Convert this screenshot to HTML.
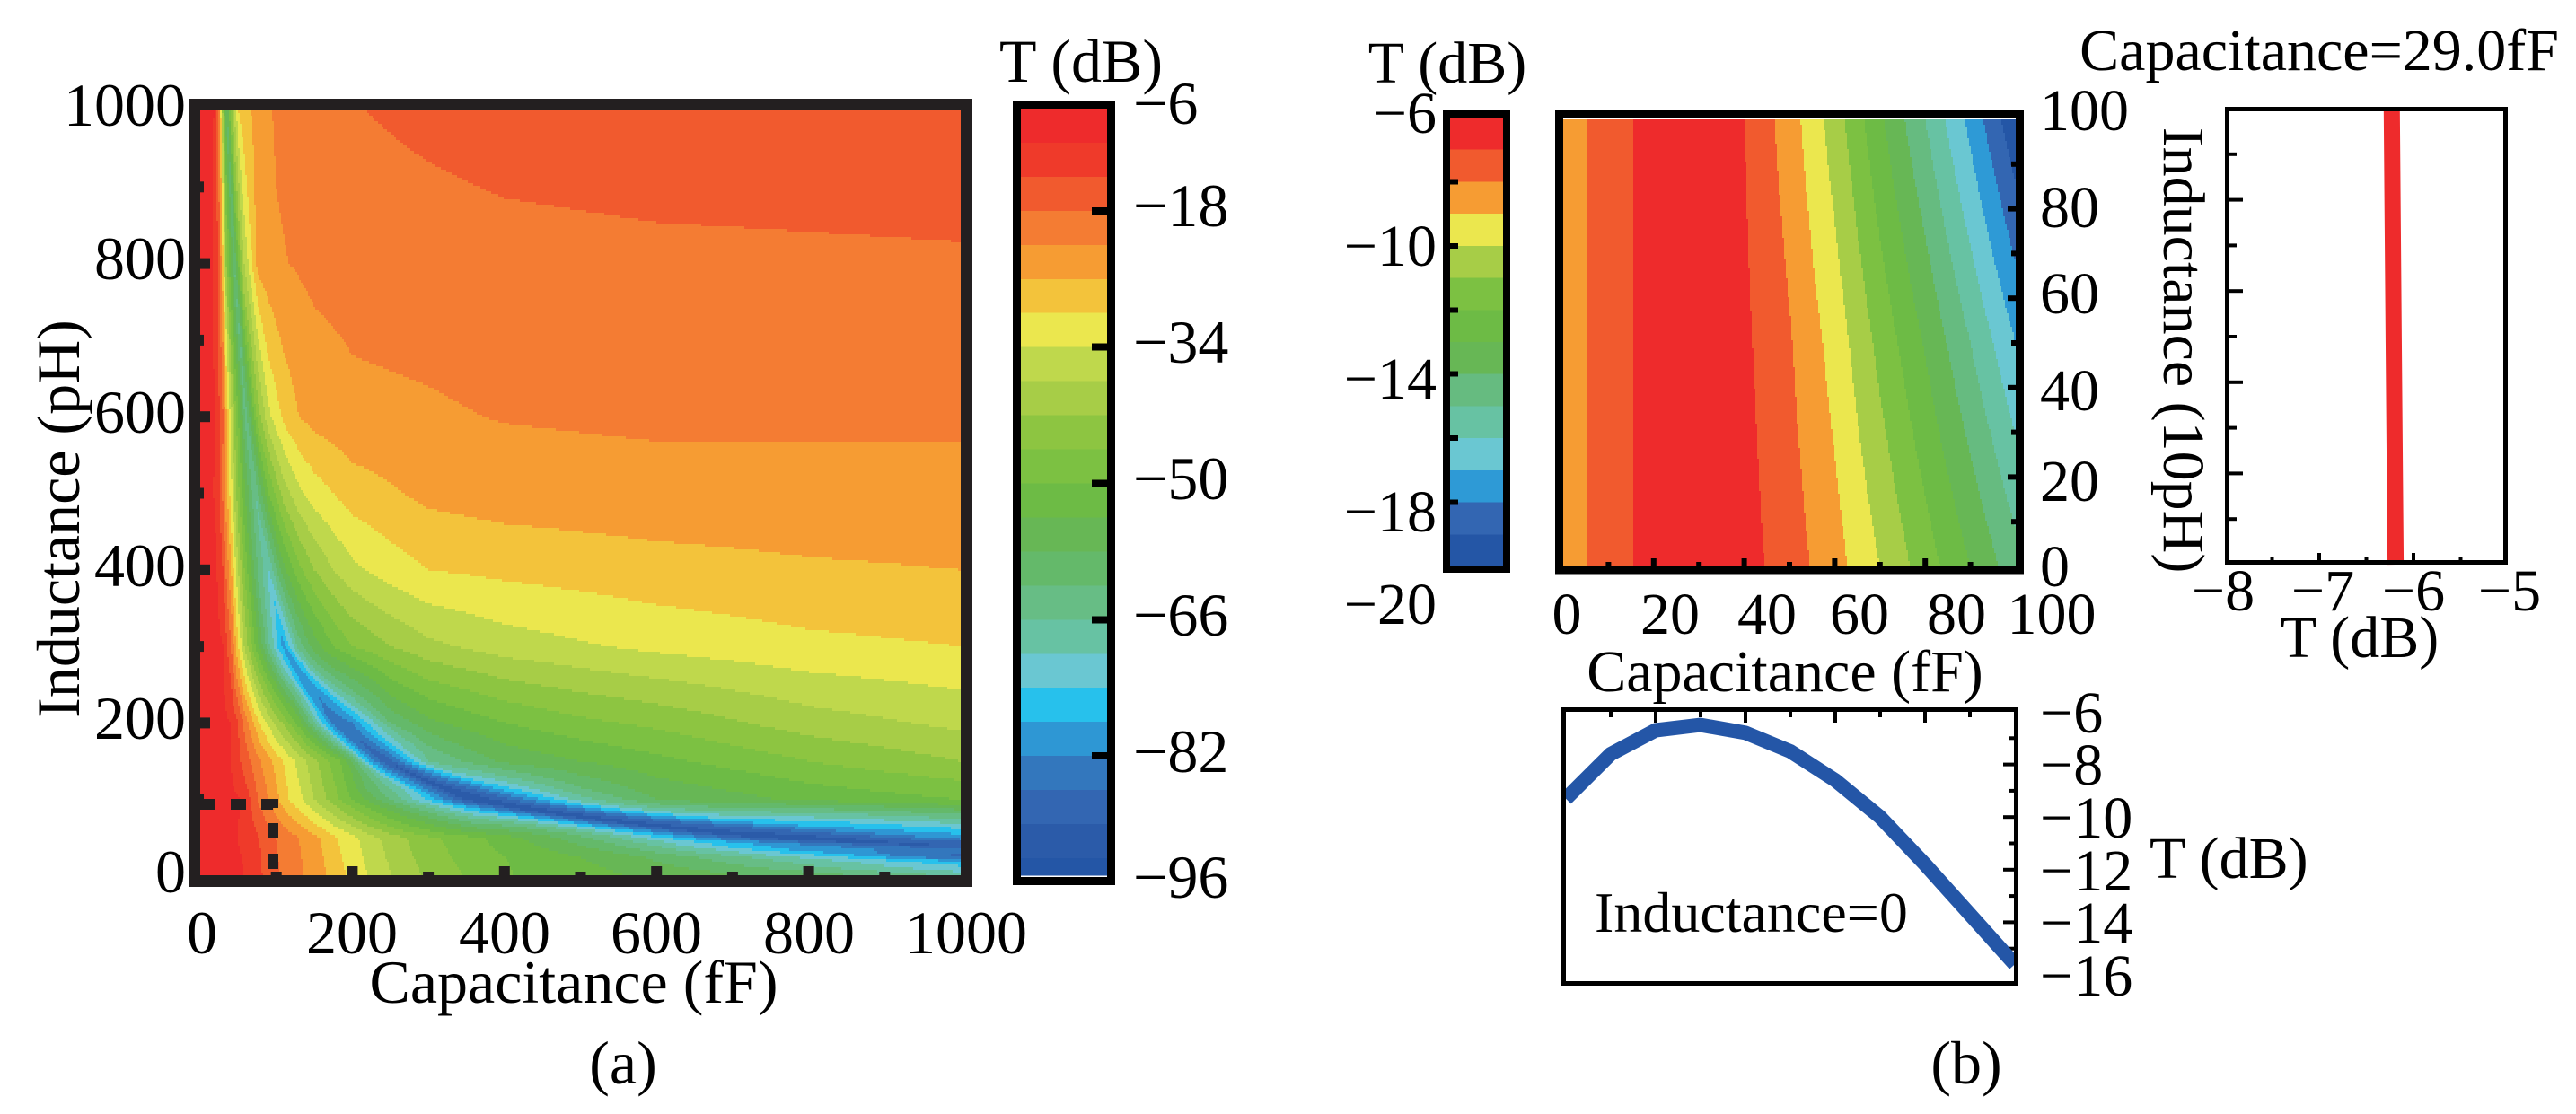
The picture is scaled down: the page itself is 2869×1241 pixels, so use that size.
<!DOCTYPE html>
<html><head><meta charset="utf-8"><title>Transmission contour maps</title>
<style>
html,body{margin:0;padding:0;background:#fff;}
svg{display:block;}
text{fill:#000;font-family:"Liberation Serif","Times New Roman",Times,serif;}
</style></head>
<body>
<svg id="fig" width="2869" height="1241" viewBox="0 0 2869 1241" xmlns="http://www.w3.org/2000/svg" font-family="Liberation Serif, Times New Roman, serif">
<rect x="0" y="0" width="2869" height="1241" fill="#fff"/>
<g id="heatA" shape-rendering="crispEdges"></g>
<g id="cbarA" shape-rendering="crispEdges"></g>
<g id="heatB" shape-rendering="crispEdges"></g>
<g id="cbarB" shape-rendering="crispEdges"></g>
<g id="ticks"></g>
<g id="lines"></g>

<rect x="216.5" y="116.5" width="860" height="865" fill="none" stroke="#231f20" stroke-width="13"/>
<path d="M223,896 H304 V976" fill="none" stroke="#231f20" stroke-width="12" stroke-dasharray="17 17"/>
<rect x="1132.5" y="116.5" width="105" height="865" fill="none" stroke="#000" stroke-width="9"/>

<g font-size="68" text-anchor="end">
<text x="207" y="994">0</text>
<text x="207" y="823">200</text>
<text x="207" y="653">400</text>
<text x="207" y="482">600</text>
<text x="207" y="311">800</text>
<text x="207" y="140">1000</text>
</g>
<g font-size="68" text-anchor="middle">
<text x="225" y="1062">0</text>
<text x="392" y="1062">200</text>
<text x="562" y="1062">400</text>
<text x="731" y="1062">600</text>
<text x="901" y="1062">800</text>
<text x="1076" y="1062">1000</text>
</g>
<text x="639" y="1117" font-size="68" text-anchor="middle">Capacitance (fF)</text>
<text x="694" y="1207" font-size="68" text-anchor="middle">(a)</text>
<text transform="translate(88,578) rotate(-90)" font-size="68" text-anchor="middle">Inductance (pH)</text>
<text x="1204" y="91" font-size="68" text-anchor="middle">T (dB)</text>
<g font-size="68">
<text x="1262" y="138">−6</text>
<text x="1262" y="252">−18</text>
<text x="1262" y="404">−34</text>
<text x="1262" y="556">−50</text>
<text x="1262" y="708">−66</text>
<text x="1262" y="860">−82</text>
<text x="1262" y="1000">−96</text>
</g>

<rect x="1611" y="127" width="67" height="507" fill="none" stroke="#000" stroke-width="8"/>
<rect x="1736.5" y="127.5" width="513" height="507.5" fill="none" stroke="#000" stroke-width="9"/>
<rect x="2480.5" y="121.5" width="310" height="505" fill="none" stroke="#000" stroke-width="5"/>
<rect x="1741.5" y="790.5" width="504" height="305" fill="none" stroke="#000" stroke-width="5"/>

<text x="1612" y="92" font-size="66" text-anchor="middle">T (dB)</text>
<g font-size="66" text-anchor="end">
<text x="1600" y="148">−6</text>
<text x="1600" y="296">−10</text>
<text x="1600" y="444">−14</text>
<text x="1600" y="592">−18</text>
<text x="1600" y="695">−20</text>
</g>
<g font-size="66" text-anchor="middle">
<text x="1745" y="706">0</text>
<text x="1860" y="706">20</text>
<text x="1968" y="706">40</text>
<text x="2071" y="706">60</text>
<text x="2179" y="706">80</text>
<text x="2285" y="706">100</text>
</g>
<text x="1988" y="770" font-size="66" text-anchor="middle">Capacitance (fF)</text>
<g font-size="66">
<text x="2272" y="653">0</text>
<text x="2272" y="558">20</text>
<text x="2272" y="457">40</text>
<text x="2272" y="349">60</text>
<text x="2272" y="253">80</text>
<text x="2272" y="145">100</text>
</g>
<text x="2850" y="78" font-size="66" text-anchor="end">Capacitance=29.0fF</text>
<text transform="translate(2410,390) rotate(90)" font-size="66" text-anchor="middle">Inductance (10pH)</text>
<g font-size="66" text-anchor="middle">
<text x="2476" y="680">−8</text>
<text x="2587" y="680">−7</text>
<text x="2688" y="680">−6</text>
<text x="2795" y="680">−5</text>
</g>
<text x="2628" y="732" font-size="66" text-anchor="middle">T (dB)</text>
<g font-size="66">
<text x="2272" y="816">−6</text>
<text x="2272" y="874">−8</text>
<text x="2272" y="933">−10</text>
<text x="2272" y="992">−12</text>
<text x="2272" y="1050">−14</text>
<text x="2272" y="1109">−16</text>
</g>
<text x="2394" y="978" font-size="66">T (dB)</text>
<text x="1776" y="1038" font-size="64">Inductance=0</text>
<text x="2190" y="1207" font-size="68" text-anchor="middle">(b)</text>
</svg>

<script>
// ---------- Panel (a) data: T (dB) profiles along capacitance for each inductance row ----------
const aRowsL = [1000, 800, 600, 500, 400, 300, 200, 150, 100, 50, 25, 0];
const aValleyC = [35, 45, 60, 72, 90, 110, 185, 245, 360, 740, 1400, 2800];
const rowC1000 = [0,10,18,25,30,35,40,50,75,100,150,200,300,400,600,1000];
const rowT1000 = [-7.5,-8.5,-10,-20,-45,-60,-45,-30,-24,-21.5,-19.5,-18.2,-17,-16,-15.3,-15];
const rowC800 = [0,15,25,35,45,55,75,100,150,200,300,400,600,1000];
const rowT800 = [-7.5,-9,-15,-45,-62,-40,-25,-22.5,-21,-20.5,-20,-19.5,-19,-18.5];
const rowC600 = [0,20,30,40,50,60,75,90,110,130,150,200,300,400,600,1000];
const rowT600 = [-7.5,-10,-18,-35,-50,-64,-45,-35,-29,-26,-24.5,-23,-22.5,-21.8,-21.3,-21.3];
const rowC500 = [0,15,25,35,50,60,72,90,110,130,150,200,300,400,600,1000];
const rowT500 = [-7.5,-9,-13,-25,-45,-55,-66,-50,-40,-35,-32,-28,-25,-24,-23.5,-23.5];
const rowC400 = [0,20,30,40,50,60,75,90,110,130,150,175,200,250,300,400,600,800,1000];
const rowT400 = [-7.5,-9,-14,-25,-38,-48,-62,-70,-55,-47,-42,-38,-35,-32,-30,-29,-27.5,-26.5,-26];
const rowC300 = [0,20,30,40,50,60,75,90,110,130,150,175,200,250,300,400,600,800,1000];
const rowT300 = [-7.5,-8.5,-10,-17,-30,-40,-52,-65,-80,-64,-56,-50,-46,-42,-39,-36,-33,-31,-30];
const rowC200 = [0,20,30,40,50,60,70,80,90,110,130,150,175,200,250,300,400,500,600,800,1000];
const rowT200 = [-7.5,-8,-9,-10,-14,-20,-26,-31,-35,-43,-52,-66,-84,-82,-62,-55,-50,-47,-45,-40,-37];
const rowC150 = [0,40,53,66,80,95,109,125,140,155,170,185,205,218,245,280,300,400,566,800,1000];
const rowT150 = [-7.5,-10,-14,-18,-22,-26,-30,-34,-38,-42,-46,-50,-62,-75,-90,-75,-66,-57,-52,-46,-42];
const rowC100 = [0,20,40,52,66,76,90,104,117,135,150,175,200,225,250,300,360,400,500,600,800,1000];
const rowT100 = [-7.5,-7.5,-9,-10,-14,-18,-22,-26,-30,-34,-38,-44,-50,-56,-62,-75,-94,-88,-68,-58,-53,-50];
const rowC50 = [0,50,78,100,130,157,181,208,236,271,315,374,473,550,650,750,850,1000];
const rowT50 = [-7.5,-10,-14,-18,-22,-26,-30,-34,-38,-42,-46,-50,-58,-66,-80,-92,-90,-80];
const rowC25 = [0,55,80,102,133,162,186,214,244,280,330,400,550,700,850,1000];
const rowT25 = [-7.5,-10,-14,-18,-22,-26,-30,-34,-38,-42,-46,-50,-56,-65,-75,-88];
const rowC0 = [0,58,82,104,136,166,192,220,252,291,346,413,567,800,1000];
const rowT0 = [-7.5,-10,-14,-18,-22,-26,-30,-34,-38,-42,-46,-50,-54,-59,-65];
const colorsA = ['#ee2b2c','#ef3a2a','#f15a2e','#f47c33','#f69c33','#f3c33b','#ebe74e','#bfd84c','#a7cd47','#8dc541','#7cc142','#6dbb45','#67b755','#64b96a','#67bd85','#67c2a3','#6ac7d2','#27c1ec','#2e97d4','#3377bd','#3366b2','#2b5ba9','#2456a6'];
const cbarATicks = [-18, -34, -50, -66, -82];

// ---------- Panel (b) data ----------
const bC = [0,10,20,30,40,50,60,70,80,90,100];
const bL = [0, 50, 100];
const bRowT0 = [-8.5,-7.5,-6.6,-6.3,-6.6,-7.5,-8.6,-10.0,-11.5,-13.0,-14.6];
const bRowT50 = [-8.5,-7.5,-6.6,-6.3,-6.8,-7.9,-9.4,-11.3,-13.1,-15.0,-17.0];
const bRowT100 = [-8.5,-7.5,-6.6,-6.4,-7.0,-8.5,-10.5,-12.8,-15.0,-17.3,-19.8];
const colorsB = ['#ee2b2c','#f15a2e','#f69c33','#ebe74e','#a7cd47','#7cc142','#6dbb45','#67b755','#66bb80','#67c2a3','#6ac7d2','#2e9ad6','#3366b2','#2456a6'];
const lineC = [0,10,20,30,40,50,60,70,80,90,100];
const lineT = [-9.3,-7.6,-6.7,-6.5,-6.8,-7.5,-8.6,-10.0,-11.8,-13.7,-15.6];
const vertL = [0, 50, 100];
const vertT = [-6.19, -6.21, -6.23];

const NS = 'http://www.w3.org/2000/svg';
const rowsCA = [rowC1000,rowC800,rowC600,rowC500,rowC400,rowC300,rowC200,rowC150,rowC100,rowC50,rowC25,rowC0];
const rowsTA = [rowT1000,rowT800,rowT600,rowT500,rowT400,rowT300,rowT200,rowT150,rowT100,rowT50,rowT25,rowT0];

function mk(tag){ return document.createElementNS(NS, tag); }
function lerpRow(cs, ts, c){
  if (c <= cs[0]) return ts[0];
  const n = cs.length;
  if (c >= cs[n-1]) return ts[n-1];
  let i = 0; while (cs[i+1] < c) i++;
  const t = (c - cs[i]) / (cs[i+1] - cs[i]);
  return ts[i] + t * (ts[i+1] - ts[i]);
}
function valueA(c, L){
  let i = 0; while (i < aRowsL.length - 2 && aRowsL[i+1] > L) i++;
  const t = Math.max(0, Math.min(1, (aRowsL[i] - L) / (aRowsL[i] - aRowsL[i+1])));
  const plain = (1-t)*lerpRow(rowsCA[i], rowsTA[i], c) + t*lerpRow(rowsCA[i+1], rowsTA[i+1], c);
  if (c <= 0) return plain;
  const cv = Math.exp((1-t)*Math.log(aValleyC[i]) + t*Math.log(aValleyC[i+1]));
  const s = c / cv;
  const w = Math.max(0, 1 - Math.abs(Math.log(s)) / Math.log(2.5));
  if (w <= 0) return plain;
  const warped = (1-t)*lerpRow(rowsCA[i], rowsTA[i], s*aValleyC[i]) + t*lerpRow(rowsCA[i+1], rowsTA[i+1], s*aValleyC[i+1]);
  return w*warped + (1-w)*plain;
}
function bandA(T){ return Math.max(0, Math.min(colorsA.length-1, Math.floor((-6 - T)/4))); }
function bandB(T){ return Math.max(0, Math.min(colorsB.length-1, Math.floor(-6 - T))); }
function valueB(c, L){
  const rows = [bRowT0, bRowT50, bRowT100];
  let i = L >= 50 ? 1 : 0;
  const t = (L - bL[i]) / (bL[i+1] - bL[i]);
  return (1-t)*lerpRow(bC, rows[i], c) + t*lerpRow(bC, rows[i+1], c);
}

const axA = { x0:223, x1:1070, y0:976, y1:123 };
function xA(c){ return axA.x0 + (axA.x1-axA.x0)*c/1000; }
function yA(L){ return axA.y0 - (axA.y0-axA.y1)*L/1000; }
function cFromXA(x){ return (x-axA.x0)/(axA.x1-axA.x0)*1000; }
function lFromYA(y){ return (axA.y0-y)/(axA.y0-axA.y1)*1000; }
const axB = { x0:1741, x1:2245, y0:631, y1:133 };
function cFromXB(x){ return (x-axB.x0)/(axB.x1-axB.x0)*100; }
function lFromYB(y){ return (axB.y0-y)/(axB.y0-axB.y1)*100; }
function yCbarA(T){ return 121 + (-6 - T)*(975-121)/90; }
function yCbarB(T){ return 131 + (-6 - T)*(631-131)/14; }
const axL = { x0:2478, x1:2793, y0:629, y1:121 };
function xL(T){ return axL.x0 + (T+8)/3*(axL.x1-axL.x0); }
function yL(L){ return axL.y0 - L/100*(axL.y0-axL.y1); }
const axC = { x0:1744, x1:2244, y0:793, y1:1086 };
function xC(c){ return axC.x0 + c/100*(axC.x1-axC.x0); }
function yC(T){ return axC.y0 + (-6 - T)/10*(axC.y1-axC.y0); }

function paintField(g, x0, x1, y0, y1, dx, dy, valFn, bandFn, colors, nameBase){
  for (let y = y0; y < y1; y += dy){
    const h = Math.min(dy, y1 - y);
    let runStart = x0, runBand = -1;
    const flush = (xEnd) => {
      if (runBand < 0) return;
      const r = mk('rect');
      r.setAttribute('x', runStart); r.setAttribute('y', y);
      r.setAttribute('width', Math.max(0, xEnd - runStart)); r.setAttribute('height', h + 0.6);
      r.setAttribute('fill', colors[runBand]);
      
      
      g.appendChild(r);
    };
    for (let x = x0; x < x1; x += dx){
      const w = Math.min(dx, x1 - x);
      const b = bandFn(valFn(x + w/2, y + h/2));
      if (b !== runBand){ flush(x); runStart = x; runBand = b; }
    }
    flush(x1);
  }
}

paintField(document.getElementById('heatA'), 223, 1070, 123, 976, 2, 3,
  (x, y) => valueA(cFromXA(x), lFromYA(y)), bandA, colorsA, 'contour-cell-a');

(function(){
  const g = document.getElementById('cbarA');
  for (let i = 0; i < colorsA.length; i++){
    const top = -6 - 4*i, bot = Math.max(-96, -10 - 4*i);
    const r = mk('rect');
    r.setAttribute('x', 1137); r.setAttribute('y', yCbarA(top));
    r.setAttribute('width', 96); r.setAttribute('height', yCbarA(bot) - yCbarA(top) + 0.6);
    r.setAttribute('fill', colorsA[i]);
    
    
    g.appendChild(r);
  }
  for (const t of cbarATicks){
    const k = mk('rect');
    k.setAttribute('x', 1216); k.setAttribute('y', yCbarA(t) - 4);
    k.setAttribute('width', 18); k.setAttribute('height', 8); k.setAttribute('fill', '#000');
    
    
    g.appendChild(k);
  }
})();

paintField(document.getElementById('heatB'), 1741, 2245, 133, 631, 2, 3,
  (x, y) => valueB(cFromXB(x), lFromYB(y)), bandB, colorsB, 'contour-cell-b');

(function(){
  const g = document.getElementById('cbarB');
  for (let i = 0; i < colorsB.length; i++){
    const r = mk('rect');
    r.setAttribute('x', 1615); r.setAttribute('y', yCbarB(-6 - i));
    r.setAttribute('width', 59); r.setAttribute('height', yCbarB(-7 - i) - yCbarB(-6 - i) + 0.6);
    r.setAttribute('fill', colorsB[i]);
    
    
    g.appendChild(r);
  }
  for (let t = -8; t >= -18; t -= 2){
    const k = mk('rect');
    k.setAttribute('x', 1615); k.setAttribute('y', yCbarB(t) - 3);
    k.setAttribute('width', 9); k.setAttribute('height', 6); k.setAttribute('fill', '#000');
    
    
    g.appendChild(k);
  }
})();

(function(){
  const g = document.getElementById('ticks');
  function tick(x, y, w, h, col){
    const r = mk('rect');
    r.setAttribute('x', x); r.setAttribute('y', y);
    r.setAttribute('width', w); r.setAttribute('height', h);
    r.setAttribute('fill', col || '#231f20');
    
    
    g.appendChild(r);
  }
  for (let c = 100; c < 1000; c += 100){
    const major = (c % 200 === 0);
    tick(xA(c) - 6, major ? 965 : 971, 12, major ? 11 : 5);
  }
  for (let L = 100; L < 1000; L += 100){
    const major = (L % 200 === 0);
    tick(223, yA(L) - 6, major ? 11 : 4, 12);
  }
  for (let c = 10; c < 100; c += 10) tick(1741 + c*5.04 - 3, c % 20 === 0 ? 622 : 626, 6, c % 20 === 0 ? 9 : 5, '#000');
  for (let L = 10; L < 100; L += 10) tick(L % 20 === 0 ? 2236 : 2240, 631 - L*4.98 - 3, L % 20 === 0 ? 9 : 5, 6, '#000');
  for (let L = 10; L < 100; L += 10){
    const major = (L % 20 === 0);
    tick(2483, yL(L) - 2, major ? 15 : 8, 4, '#000');
  }
  for (let T = -7.5; T < -5; T += 0.5){
    const major = Math.abs(T - Math.round(T)) < 1e-6;
    tick(xL(T) - 2, major ? 616 : 620, 4, major ? 8 : 4, '#000');
  }
  for (let c = 10; c < 100; c += 10) tick(xC(c) - 2, 793, 4, c % 20 === 0 ? 12 : 6, '#000');
  for (let T = -7; T > -16; T -= 1){
    const major = (T % 2 === 0);
    tick(major ? 2231 : 2237, yC(T) - 2, major ? 12 : 6, 4, '#000');
  }
})();

(function(){
  const g = document.getElementById('lines');
  const defs = mk('defs');
  const cp = mk('clipPath'); cp.setAttribute('id', 'clipC');
  const cr = mk('rect'); cr.setAttribute('x', 1744); cr.setAttribute('y', 793); cr.setAttribute('width', 500); cr.setAttribute('height', 300);
  cp.appendChild(cr); defs.appendChild(cp); g.appendChild(defs);
  let d = '';
  for (let i = 0; i < lineC.length; i++) d += (i ? ' L' : 'M') + xC(lineC[i]).toFixed(1) + ',' + yC(lineT[i]).toFixed(1);
  const p = mk('path');
  p.setAttribute('d', d); p.setAttribute('fill', 'none');
  p.setAttribute('stroke', '#2456a7'); p.setAttribute('stroke-width', 16);
  p.setAttribute('stroke-linejoin', 'round');
  p.setAttribute('clip-path', 'url(#clipC)');
  
  
  g.appendChild(p);
  let d2 = '';
  for (let i = 0; i < vertL.length; i++) d2 += (i ? ' L' : 'M') + xL(vertT[i]).toFixed(1) + ',' + yL(vertL[i]).toFixed(1);
  const p2 = mk('path');
  p2.setAttribute('d', d2); p2.setAttribute('fill', 'none');
  p2.setAttribute('stroke', '#ee2b2c'); p2.setAttribute('stroke-width', 18);
  
  
  g.appendChild(p2);
})();
</script>
</body></html>
